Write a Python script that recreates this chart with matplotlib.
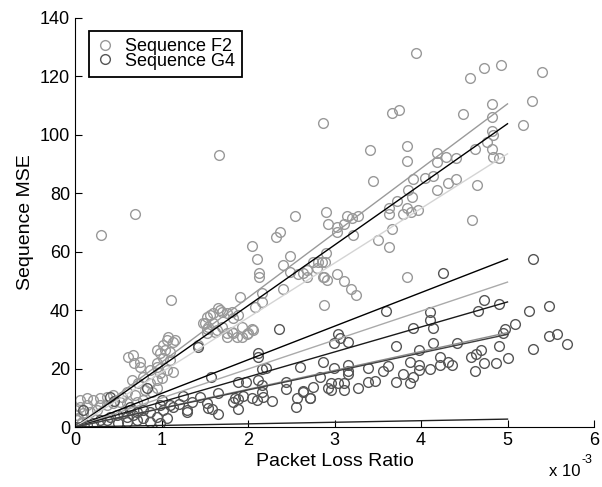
import numpy as np
import matplotlib
matplotlib.use("Agg")
import matplotlib.pyplot as plt
from matplotlib.lines import Line2D

# packet loss ratio in units of 1e-3, MSE values
e2_x = [0.30, 0.69, 1.66, 3.94, 2.87, 4.57, 4.73, 4.93, 5.40, 5.28, 5.18, 4.82, 4.82, 4.49, 3.66, 3.75,
        3.41, 3.84, 3.84, 3.44, 4.82, 4.83, 4.76, 4.82, 4.83, 4.90, 4.62, 4.65, 4.59, 4.18, 4.18, 4.29,
        4.40, 3.91, 4.05, 4.14, 4.31, 4.40, 4.18, 3.85, 3.90, 3.72, 3.63, 3.63, 3.84, 3.79, 3.88, 3.97,
        2.90, 2.92, 3.03, 3.11, 3.14, 3.20, 3.27, 3.21, 3.50, 3.63, 3.66, 3.03,
        2.54, 2.32, 2.37, 2.05, 2.10, 2.13, 2.13, 2.49, 2.40, 2.49, 2.58, 2.68, 2.68, 2.75, 2.80, 2.86,
        2.89, 2.88, 2.88, 2.40, 2.16, 2.16, 2.08, 1.91,
        1.88, 1.82, 1.70, 1.65, 1.56, 1.50, 1.60, 1.53, 1.62, 1.70, 1.82, 1.87, 1.76, 1.99, 2.05, 1.42,
        1.11, 1.08, 1.16,
        0.61, 0.68, 0.75, 0.67, 0.98, 1.04, 1.10, 1.02, 0.95, 0.98, 1.06, 1.13, 0.66, 0.73, 0.79, 0.87,
        0.95, 1.01, 0.95, 0.89, 0.81, 0.69, 0.60, 0.54, 0.60, 0.72, 0.79,
        0.06, 0.14, 0.21, 0.29, 0.37, 0.44, 0.52, 0.44, 0.37, 0.29, 0.14, 0.06, 0.00, 0.02, 0.03, 0.09,
        0.17, 0.25, 0.02, 0.08,
        1.53, 1.60, 1.68, 1.76, 1.83, 1.48, 1.54, 1.64, 1.76, 1.83, 1.93, 2.00, 2.06, 1.93, 1.53,
        1.06, 1.13, 1.02, 0.95, 1.10, 0.95, 0.87, 0.75,
        2.64, 2.81, 2.90, 2.87, 2.91, 3.03, 3.11, 3.19, 3.25, 3.84]
e2_y = [65.8, 73.0, 93.0, 128.0, 104.0, 119.5, 123.0, 124.0, 121.5, 111.6, 103.4, 110.6, 106.0, 107.0, 107.5, 108.6,
        94.9, 96.2, 91.0, 84.2, 101.4, 100.0, 97.6, 95.2, 92.5, 92.1, 95.2, 82.9, 70.9, 93.8, 90.8, 92.5,
        92.1, 84.9, 85.3, 86.0, 83.6, 84.9, 81.2, 81.2, 78.8, 77.4, 75.0, 72.9, 75.0, 72.9, 73.6, 74.3,
        73.6, 69.5, 68.5, 69.5, 72.3, 71.6, 72.3, 65.8, 64.0, 61.6, 67.8, 66.8,
        72.3, 65.0, 66.8, 62.0, 57.5, 52.7, 51.4, 58.6, 55.5, 53.0, 52.4, 51.4, 53.8, 56.5, 54.5, 56.5,
        56.5, 51.4, 41.8, 47.3, 45.9, 42.8, 41.1, 44.5,
        38.4, 39.4, 39.4, 40.8, 38.4, 35.6, 35.6, 33.6, 32.5, 34.2, 32.5, 30.8, 30.8, 31.8, 33.6, 28.1,
        43.5, 30.8, 29.8,
        24.0, 21.9, 22.3, 24.7, 25.3, 26.4, 25.7, 23.6, 20.5, 18.5, 19.5, 18.8, 16.1, 15.1, 17.1, 15.1,
        16.1, 16.8, 13.4, 12.0, 12.7, 11.0, 12.0, 10.3, 8.2, 8.6, 9.2,
        9.2, 9.9, 9.2, 9.9, 10.3, 11.0, 8.6, 8.2, 7.5, 7.5, 7.5, 6.8, 5.8, 4.1, 3.1, 4.8,
        5.1, 5.8, 2.4, 1.7,
        37.7, 39.0, 40.1, 39.0, 37.3, 35.6, 34.2, 33.2, 32.2, 32.2, 30.8, 32.2, 33.2, 34.2, 32.2,
        29.8, 29.1, 28.1, 26.4, 22.9, 21.9, 19.5, 20.5,
        52.7, 56.5, 59.6, 51.4, 50.3, 52.4, 50.0, 47.3, 45.2, 51.4]

g4_x = [5.29, 4.25, 3.60, 4.10, 4.10, 4.14, 3.91, 4.73, 4.66, 4.90, 5.25, 5.48, 5.09, 4.97, 4.95, 5.48,
        5.57, 5.69, 5.29, 5.01, 4.90, 4.87, 4.73, 4.62, 4.58, 4.64, 4.69, 4.42, 4.14, 3.98, 3.71, 4.22,
        4.22, 4.31, 4.36, 4.10, 3.87, 3.98, 3.98, 3.91, 3.79, 3.87, 3.71, 3.62, 3.56, 3.47, 3.39, 3.27,
        3.39, 3.04, 3.06, 3.16, 2.99, 3.16, 3.16, 3.16, 2.99, 2.87, 2.83, 2.96, 2.96, 3.04, 3.11, 3.11,
        2.75, 2.64, 2.72, 2.60,
        2.36, 2.12, 2.12, 2.16, 2.21, 1.57, 1.88, 1.98, 2.12, 2.16, 2.16, 2.17, 2.10, 2.05, 2.44, 2.44,
        2.28, 1.94, 1.88, 1.85, 1.83, 1.88, 1.65, 1.53, 1.54, 1.58, 1.65, 1.29, 2.57, 2.64, 2.72, 2.55,
        2.92,
        0.83, 1.29, 0.98, 1.10, 1.13, 1.02, 0.87, 0.79, 0.72, 0.64, 0.55, 0.49, 0.40, 0.37, 0.29, 0.21,
        0.14, 0.06, 0.00, 0.95, 1.06, 0.98, 0.87, 0.79, 0.72, 0.60, 0.50, 0.09, 0.45, 1.42, 1.01, 0.64,
        0.67, 0.60, 0.40, 1.20, 1.35, 1.45, 1.25]
g4_y = [57.5, 52.7, 39.7, 39.4, 36.6, 33.9, 33.9, 43.5, 39.7, 42.1, 39.7, 41.4, 35.3, 33.6, 32.2, 31.2,
        31.8, 28.4, 26.7, 23.6, 27.7, 21.9, 21.9, 19.2, 24.0, 25.0, 26.4, 28.8, 28.8, 26.4, 27.7, 24.0,
        21.2, 22.3, 21.2, 19.9, 22.3, 21.2, 19.5, 17.1, 18.2, 15.1, 15.4, 20.9, 19.2, 15.8, 15.4, 13.4,
        20.2, 31.8, 30.5, 29.1, 28.8, 21.2, 19.2, 18.2, 20.2, 22.3, 17.1, 15.1, 12.7, 15.1, 15.1, 12.7,
        13.7, 12.0, 9.9, 20.5,
        33.6, 25.3, 24.0, 19.9, 20.2, 17.1, 15.4, 15.4, 16.1, 14.4, 12.0, 10.3, 9.2, 9.9, 15.4, 13.0,
        8.9, 10.6, 9.6, 9.9, 8.6, 6.2, 11.6, 8.2, 6.5, 6.2, 4.5, 5.1, 9.9, 12.3, 9.9, 6.8,
        13.4,
        13.4, 5.8, 7.5, 7.5, 6.8, 5.8, 5.1, 5.8, 5.1, 5.8, 4.8, 4.1, 3.4, 2.4, 2.4, 1.4,
        0.7, 0.0, 0.0, 3.4, 3.1, 1.4, 1.7, 3.1, 2.4, 1.7, 1.4, 5.8, 8.9, 27.4, 9.2, 6.8,
        4.1, 3.4, 10.3, 7.9, 8.6, 10.3, 10.6]

# fitted lines through the origin, value reached at x = 5e-3
fit_x_end = 5.0
e2_fit_end = [110.6, 103.8, 93.5]
e2_fit_colors = ["#9a9a9a", "#000000", "#d4d4d4"]
g4_fit_end = [57.5, 49.6, 42.8, 32.3, 31.7, 2.7]
g4_fit_colors = ["#000000", "#aaaaaa", "#1a1a1a", "#8c8c8c", "#404040", "#202020"]

e2_color = "#999999"
g4_color = "#555555"

plt.rcParams["font.family"] = ["Liberation Sans", "DejaVu Sans"]

fig = plt.figure(figsize=(6.02, 4.87), dpi=100)
ax = fig.add_axes([75 / 602, 60 / 487, 519 / 602, 409 / 487])

ax.plot(e2_x, e2_y, "o", mfc="none", mec=e2_color, ms=7, mew=1.0)
ax.plot(g4_x, g4_y, "o", mfc="none", mec=g4_color, ms=7, mew=1.0)

for v, c in zip(e2_fit_end, e2_fit_colors):
    ax.plot([0, fit_x_end], [0, v], color=c, lw=1.0)
for v, c in zip(g4_fit_end, g4_fit_colors):
    ax.plot([0, fit_x_end], [0, v], color=c, lw=1.0)

ax.set_xlim(0, 6)
ax.set_ylim(0, 140)
ax.set_xticks(range(0, 7))
ax.set_yticks(range(0, 141, 20))
ax.spines["top"].set_visible(False)
ax.spines["right"].set_visible(False)
ax.tick_params(direction="in", length=5, labelsize=13, width=0.8)
ax.set_xlabel("Packet Loss Ratio", fontsize=14, labelpad=3)
ax.set_ylabel("Sequence MSE", fontsize=14, labelpad=4)

# axis multiplier, written as plain text plus a raised exponent
fig.text(549 / 602, 1 - 472 / 487, "x 10", fontsize=12, va="center", ha="left")
fig.text(582 / 602, 1 - 460 / 487, "-3", fontsize=9, va="center", ha="left")

handles = [Line2D([], [], ls="none", marker="o", mfc="none", mec=e2_color, ms=7),
           Line2D([], [], ls="none", marker="o", mfc="none", mec=g4_color, ms=7)]
leg = ax.legend(handles, ["Sequence F2", "Sequence G4"], loc="upper left",
                bbox_to_anchor=(0.027, 0.968), borderaxespad=0, fontsize=13,
                labelspacing=-0.15, handlelength=1.0, handletextpad=0.6,
                fancybox=False, framealpha=1, edgecolor="black", borderpad=0.4)
leg.get_frame().set_linewidth(1.3)

fig.savefig("out.png", dpi=100)
